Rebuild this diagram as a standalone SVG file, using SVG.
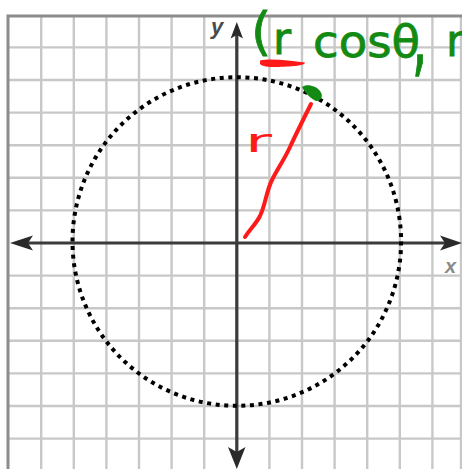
<svg xmlns="http://www.w3.org/2000/svg" width="462" height="469" viewBox="0 0 462 469">
  <defs>
    <style>
      .grid line { stroke: #c8c8c8; stroke-width: 2.4; }
      .border { stroke: #8c8c8c; stroke-width: 3; fill: none; }
      .axis { stroke: #3a3a3a; stroke-width: 3.2; fill: none; }
      .head { fill: #2a2a2a; }
      .lbl { font-family: "Liberation Sans", Arial, sans-serif; font-style: italic; font-weight: bold; }
      .green { fill: #138a13; stroke: #138a13; stroke-width: 0.8; font-family: "DejaVu Sans", sans-serif; }
      .red { fill: #ff1a1a; font-family: "DejaVu Sans", sans-serif; }
    </style>
    <filter id="soft" x="-5%" y="-5%" width="110%" height="110%">
      <feGaussianBlur stdDeviation="0.6"/>
    </filter>
  </defs>
  <rect width="462" height="469" fill="#ffffff"/>

  <g id="grid" class="grid" filter="url(#soft)">
    <line x1="41.2" y1="16" x2="41.2" y2="469"/>
    <line x1="73.8" y1="16" x2="73.8" y2="469"/>
    <line x1="106.4" y1="16" x2="106.4" y2="469"/>
    <line x1="139" y1="16" x2="139" y2="469"/>
    <line x1="171.6" y1="16" x2="171.6" y2="469"/>
    <line x1="204.2" y1="16" x2="204.2" y2="469"/>
    <line x1="269.4" y1="16" x2="269.4" y2="469"/>
    <line x1="302" y1="16" x2="302" y2="469"/>
    <line x1="334.6" y1="16" x2="334.6" y2="469"/>
    <line x1="367.2" y1="16" x2="367.2" y2="469"/>
    <line x1="399.8" y1="16" x2="399.8" y2="469"/>
    <line x1="432.4" y1="16" x2="432.4" y2="469"/>
    <line x1="8" y1="47.4" x2="462" y2="47.4"/>
    <line x1="8" y1="80" x2="462" y2="80"/>
    <line x1="8" y1="112.6" x2="462" y2="112.6"/>
    <line x1="8" y1="145.2" x2="462" y2="145.2"/>
    <line x1="8" y1="177.8" x2="462" y2="177.8"/>
    <line x1="8" y1="210.4" x2="462" y2="210.4"/>
    <line x1="8" y1="275.6" x2="462" y2="275.6"/>
    <line x1="8" y1="308.2" x2="462" y2="308.2"/>
    <line x1="8" y1="340.8" x2="462" y2="340.8"/>
    <line x1="8" y1="373.4" x2="462" y2="373.4"/>
    <line x1="8" y1="406" x2="462" y2="406"/>
    <line x1="8" y1="438.6" x2="462" y2="438.6"/>
    <line x1="461" y1="16" x2="461" y2="469"/>
  </g>
  <g id="border" filter="url(#soft)">
    <path class="border" d="M8,469 V16 H462"/>
  </g>

  <g id="connectors" filter="url(#soft)">
    <line class="axis" x1="236.8" y1="32" x2="236.8" y2="456"/>
    <line class="axis" x1="22" y1="243" x2="452" y2="243"/>
    <polygon class="head" points="236.8,22 243,38.5 236.8,35 230.6,38.5"/>
    <polygon class="head" points="236.8,469 245.5,447 236.8,452 228,447"/>
    <polygon class="head" points="10,243 33,235.5 28,243 33,250.5"/>
    <polygon class="head" points="462,243 440,235.5 445,243 440,250.5"/>
  </g>

  <g id="axis-labels">
    <text class="lbl" x="211" y="33.5" font-size="22" fill="#4a4a4a">y</text>
    <text class="lbl" x="445" y="273" font-size="20" fill="#8a8a8a">x</text>
  </g>

  <g id="circle">
    <circle cx="236.8" cy="241.5" r="164.3" fill="none" stroke="#000000" stroke-width="4" stroke-dasharray="4 4.6"/>
  </g>

  <g id="radius">
    <path d="M245,237 C250,229 256,224 260,216 C266,203 266,192 272,180 C278,168 284,160 290,147 C296,134 304,118 311,104" fill="none" stroke="#ff1a1a" stroke-width="4" stroke-linecap="round" stroke-linejoin="round"/>
    <text class="red" x="245" y="152" font-size="32" textLength="27" lengthAdjust="spacingAndGlyphs">r</text>
  </g>

  <g id="point">
    <path d="M302,87 C307,83.5 316,86 320,91 C324,96 321,101.5 316,101 C311,99 305,93 302,87 Z" fill="#138a13"/>
  </g>

  <g id="annotation">
    <path d="M260,60.5 C272,58 290,61 305,62.5 C305,66 291,66.5 276,67 C268,67 262,66.5 260,64 Z" fill="#ff1a1a"/>
    <text class="green" x="251" y="49" font-size="52">(</text>
    <text class="green" x="273" y="54" font-size="44">r</text>
    <text class="green" x="313" y="57" font-size="44" textLength="107" lengthAdjust="spacingAndGlyphs">cosθ</text>
    <text class="green" font-size="48" transform="translate(412,66) scale(1,1.8)">,</text>
    <text class="green" x="446" y="56" font-size="44">r</text>
  </g>
</svg>
